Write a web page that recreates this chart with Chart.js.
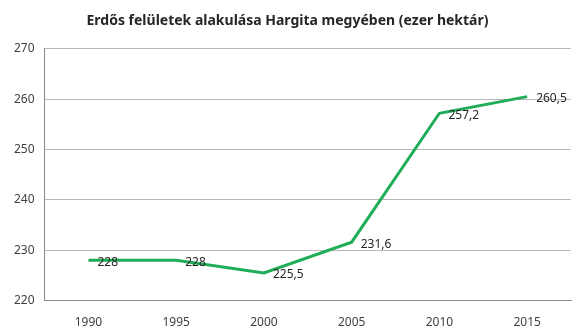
<!DOCTYPE html>
<html>
<head>
<meta charset="utf-8">
<script src="https://cdn.jsdelivr.net/npm/chart.js@4/dist/chart.umd.min.js"></script>
<style>
  html, body { margin: 0; padding: 0; background: #fff; }
  #wrap { width: 586px; height: 336px; }
</style>
</head>
<body>
<div id="wrap"><canvas id="chart"></canvas></div>
<script>
// data
var years = ["1990", "1995", "2000", "2005", "2010", "2015"];
var forest = [228, 228, 225.5, 231.6, 257.2, 260.5];
var yTicks = [220, 230, 240, 250, 260, 270];

// draws value labels to the right of each point, Excel style
var valueLabels = {
    id: "valueLabels",
    afterDatasetsDraw: function (chart) {
        var ctx = chart.ctx;
        var meta = chart.getDatasetMeta(0);
        ctx.save();
        ctx.font = "12px 'Noto Sans'";
        ctx.fillStyle = "#262626";
        ctx.textAlign = "left";
        ctx.textBaseline = "middle";
        meta.data.forEach(function (pt, i) {
            var txt = String(forest[i]).replace(".", ",");
            ctx.fillText(txt, pt.x + 9, pt.y + 2);
        });
        ctx.restore();
    }
};

new Chart(document.getElementById("chart"), {
    type: "line",
    data: {
        labels: years,
        datasets: [{
            label: "Erdős felületek",
            data: forest,
            borderColor: "#1fae57",
            borderWidth: 3,
            pointRadius: 0,
            tension: 0,
            fill: false
        }]
    },
    options: {
        responsive: true,
        maintainAspectRatio: false,
        animation: false,
        layout: { padding: { left: 4, right: 15, top: 0, bottom: -9 } },
        plugins: {
            legend: { display: false },
            tooltip: { enabled: false },
            title: {
                display: true,
                text: "Erdős felületek alakulása Hargita megyében (ezer hektár)",
                color: "#262626",
                font: { family: "'Noto Sans'", size: 14, weight: "bold" },
                padding: { top: 13, bottom: 19 }
            }
        },
        scales: {
            x: {
                offset: true,
                grid: { display: false, drawTicks: false },
                border: { color: "#888888" },
                ticks: {
                    color: "#404040",
                    font: { family: "'Noto Sans'", size: 12 },
                    padding: 15,
                    maxRotation: 0
                }
            },
            y: {
                min: 220,
                max: 270,
                afterBuildTicks: function (axis) {
                    axis.ticks = yTicks.map(function (v) { return { value: v }; });
                },
                grid: { color: "#b8b8b8", drawTicks: false },
                border: { color: "#888888" },
                ticks: {
                    color: "#404040",
                    font: { family: "'Noto Sans'", size: 12 },
                    padding: 10
                }
            }
        }
    },
    plugins: [valueLabels]
});
</script>
</body>
</html>
